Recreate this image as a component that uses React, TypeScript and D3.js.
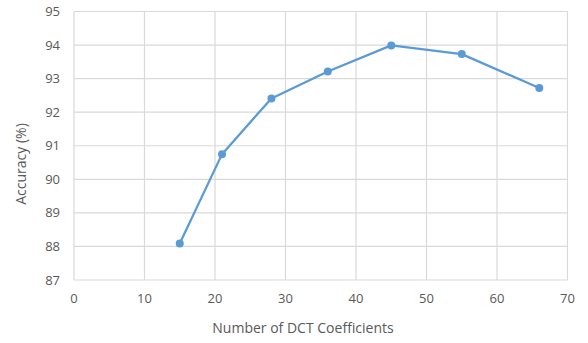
import React from "react";
import * as d3 from "d3";

const xValues = [15, 21, 28, 36, 45, 55, 66];
const accuracy = [88.09, 90.75, 92.41, 93.21, 93.99, 93.73, 92.72];
const xTicks = [0, 10, 20, 30, 40, 50, 60, 70];
const yTicks = [87, 88, 89, 90, 91, 92, 93, 94, 95];

const W = 588;
const H = 343;
const margin = { left: 74, right: 20.5, top: 11.5, bottom: 63 };

export default function App() {
  const x = d3.scaleLinear().domain([0, 70]).range([margin.left, W - margin.right]);
  const y = d3.scaleLinear().domain([87, 95]).range([H - margin.bottom, margin.top]);
  const line = d3
    .line<number>()
    .x((_, i) => x(xValues[i]))
    .y((d) => y(d));
  const font = "'Open Sans', sans-serif";
  const textColor = "#595959";
  const grid = "#d9d9d9";
  const blue = "#5b9bd5";
  return (
    <svg
      width={W}
      height={H}
      style={{ position: "absolute", left: 0, top: 0, background: "#fff" }}
    >
      <rect x={0} y={0} width={W} height={H} fill="#fff" />
      {xTicks.map((t) => (
        <line key={"gx" + t} x1={x(t)} x2={x(t)} y1={y(87)} y2={y(95)} stroke={grid} strokeWidth={1.2} />
      ))}
      {yTicks.map((t) => (
        <line key={"gy" + t} x1={x(0)} x2={x(70)} y1={y(t)} y2={y(t)} stroke={grid} strokeWidth={1.2} />
      ))}
      {yTicks.map((t) => (
        <text
          key={"ly" + t}
          x={60}
          y={y(t)}
          dy="0.35em"
          textAnchor="end"
          fontFamily={font}
          fontSize={13}
          fill={textColor}
        >
          {t}
        </text>
      ))}
      {xTicks.map((t) => (
        <text
          key={"lx" + t}
          x={x(t)}
          y={303}
          textAnchor="middle"
          fontFamily={font}
          fontSize={13}
          fill={textColor}
        >
          {t}
        </text>
      ))}
      <path d={line(accuracy) || ""} fill="none" stroke={blue} strokeWidth={2.25} strokeLinejoin="round" />
      {accuracy.map((v, i) => (
        <circle key={"p" + i} cx={x(xValues[i])} cy={y(v)} r={4} fill={blue} />
      ))}
      <text x={303} y={333} textAnchor="middle" fontFamily={font} fontSize={14} fill={textColor}>
        Number of DCT Coefficients
      </text>
      <text
        transform={`translate(26, 164) rotate(-90)`}
        textAnchor="middle"
        fontFamily={font}
        fontSize={14}
        fill={textColor}
      >
        Accuracy (%)
      </text>
    </svg>
  );
}
